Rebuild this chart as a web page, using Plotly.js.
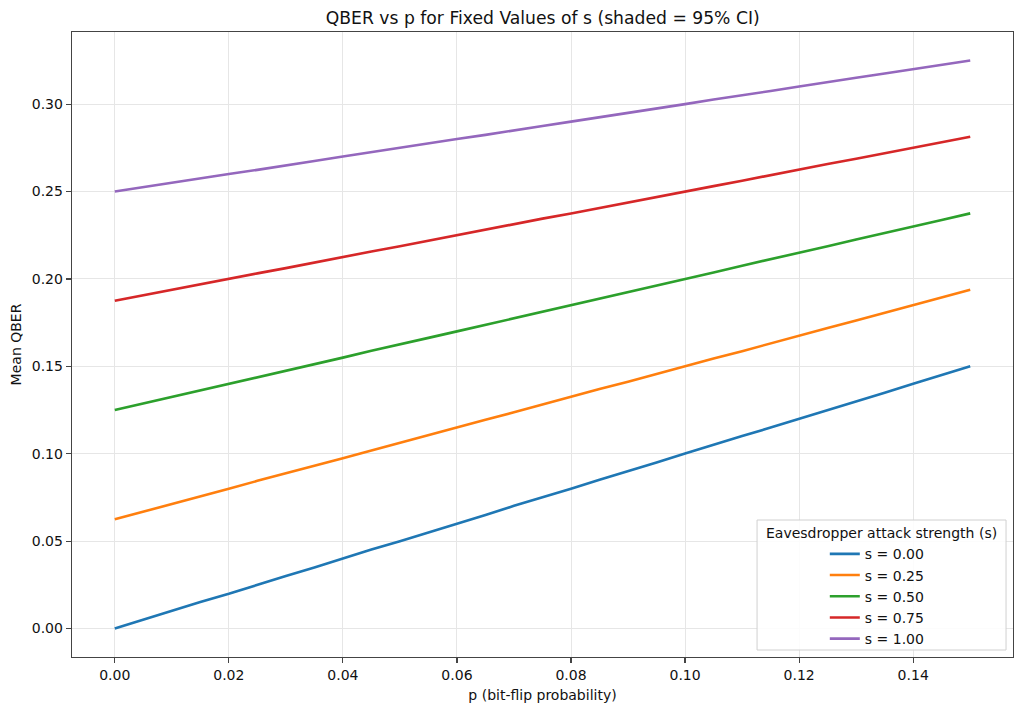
<!DOCTYPE html>
<html>
<head>
<meta charset="utf-8">
<script src="https://cdn.plot.ly/plotly-3.0.1.min.js"></script>
<style>html,body{margin:0;padding:0;background:#fff;}#chart{width:1024px;height:712px;}</style>
</head>
<body>
<div id="chart"></div>
<script>
const pValues = [0.000,0.005,0.010,0.015,0.020,0.025,0.030,0.035,0.040,0.045,0.050,0.055,0.060,0.065,0.070,0.075,0.080,0.085,0.090,0.095,0.100,0.105,0.110,0.115,0.120,0.125,0.130,0.135,0.140,0.145,0.150];

const qberS000 = [0.0000,0.0051,0.0099,0.0152,0.0199,0.0251,0.0301,0.0349,0.0401,0.0452,0.0500,0.0549,0.0601,0.0650,0.0702,0.0749,0.0800,0.0851,0.0899,0.0950,0.1001,0.1049,0.1101,0.1150,0.1199,0.1251,0.1300,0.1349,0.1401,0.1450,0.1500];
const qberS025 = [0.0625,0.0668,0.0714,0.0756,0.0800,0.0845,0.0887,0.0932,0.0975,0.1019,0.1064,0.1106,0.1150,0.1195,0.1237,0.1282,0.1325,0.1370,0.1412,0.1457,0.1500,0.1545,0.1587,0.1632,0.1676,0.1719,0.1762,0.1807,0.1850,0.1895,0.1938];
const qberS050 = [0.1250,0.1287,0.1326,0.1362,0.1400,0.1439,0.1474,0.1513,0.1550,0.1589,0.1624,0.1663,0.1700,0.1737,0.1776,0.1812,0.1851,0.1887,0.1925,0.1963,0.2000,0.2037,0.2076,0.2112,0.2150,0.2187,0.2226,0.2262,0.2301,0.2337,0.2375];
const qberS075 = [0.1875,0.1907,0.1937,0.1970,0.2000,0.2032,0.2062,0.2095,0.2124,0.2157,0.2187,0.2219,0.2251,0.2281,0.2312,0.2345,0.2374,0.2406,0.2439,0.2468,0.2501,0.2531,0.2562,0.2595,0.2625,0.2657,0.2687,0.2719,0.2751,0.2780,0.2813];
const qberS100 = [0.2500,0.2526,0.2549,0.2576,0.2600,0.2624,0.2651,0.2675,0.2700,0.2726,0.2749,0.2776,0.2800,0.2824,0.2851,0.2875,0.2900,0.2924,0.2951,0.2975,0.3000,0.3026,0.3049,0.3075,0.3101,0.3124,0.3151,0.3175,0.3200,0.3226,0.3250];

const seriesNames = ["s = 0.00","s = 0.25","s = 0.50","s = 0.75","s = 1.00"];
const seriesColors = ["#1f77b4","#ff7f0e","#2ca02c","#d62728","#9467bd"];
const seriesValues = [qberS000, qberS025, qberS050, qberS075, qberS100];

const xTicks = [0.00,0.02,0.04,0.06,0.08,0.10,0.12,0.14];
const xTickLabels = ["0.00","0.02","0.04","0.06","0.08","0.10","0.12","0.14"];
const yTicks = [0.00,0.05,0.10,0.15,0.20,0.25,0.30];
const yTickLabels = ["0.00","0.05","0.10","0.15","0.20","0.25","0.30"];

const legendTitle = "Eavesdropper attack strength (s)";

const traces = seriesValues.map((vals, i) => ({
  x: pValues, y: vals, type: "scatter", mode: "lines",
  name: seriesNames[i],
  line: {color: seriesColors[i], width: 2.6}
}));

const fontFam = "DejaVu Sans, sans-serif";
const axisCommon = {
  showline: true, mirror: true, linecolor: "#444", linewidth: 1.3,
  ticks: "outside", ticklen: 5, tickwidth: 1.2, tickcolor: "#444",
  showgrid: true, gridcolor: "#e6e6e6", gridwidth: 1,
  zeroline: false, tickfont: {family: fontFam, size: 14, color: "#111"}
};

const layout = {
  width: 1024, height: 712,
  paper_bgcolor: "#fff", plot_bgcolor: "#fff",
  margin: {l: 72, r: 11, t: 32, b: 55},
  title: {text: "QBER vs p for Fixed Values of s (shaded = 95% CI)", x: 0.53, xanchor: "center", y: 0.975, yanchor: "middle",
          font: {family: fontFam, size: 17.2, color: "#111"}},
  xaxis: Object.assign({}, axisCommon, {
    range: [-0.0075, 0.1575], tickvals: xTicks, ticktext: xTickLabels,
    title: {text: "p (bit-flip probability)", standoff: 8, font: {family: fontFam, size: 14, color: "#111"}}
  }),
  yaxis: Object.assign({}, axisCommon, {
    range: [-0.01625, 0.34125], tickvals: yTicks, ticktext: yTickLabels,
    title: {text: "Mean QBER", standoff: 6, font: {family: fontFam, size: 14, color: "#111"}}
  }),
  showlegend: true,
  legend: {
    x: 0.800, xanchor: "left", y: 0.19, yanchor: "top",
    bgcolor: "rgba(0,0,0,0)", borderwidth: 0,
    font: {family: fontFam, size: 14, color: "#111"},
    tracegroupgap: 0, itemwidth: 30
  },
  shapes: [{
    type: "rect", xref: "paper", yref: "paper",
    x0: 0.728, x1: 0.9926, y0: 0.0112, y1: 0.2192,
    fillcolor: "rgba(255,255,255,0.85)", line: {color: "#d0d0d0", width: 1}, layer: "above"
  }],
  annotations: [{
    text: legendTitle, xref: "paper", yref: "paper", x: 0.860, y: 0.199,
    xanchor: "center", yanchor: "middle", showarrow: false,
    font: {family: fontFam, size: 14, color: "#111"}
  }]
};

Plotly.newPlot("chart", traces, layout, {displayModeBar: false, staticPlot: true});
</script>
</body>
</html>
